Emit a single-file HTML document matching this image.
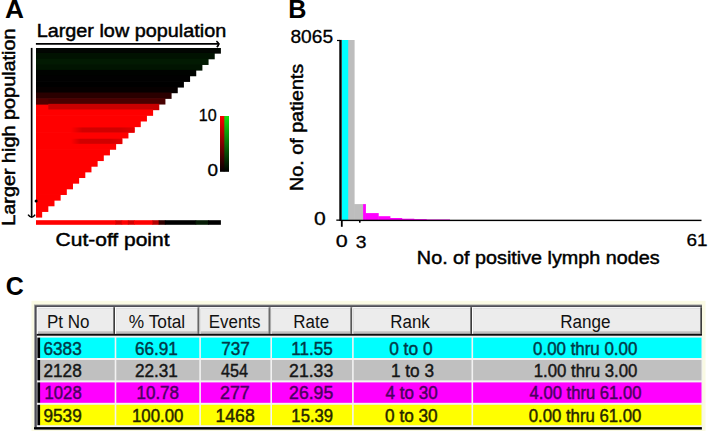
<!DOCTYPE html>
<html><head><meta charset="utf-8"><style>
html,body{margin:0;padding:0;background:#fff;}
body{width:709px;height:431px;overflow:hidden;position:relative;font-family:"Liberation Sans", sans-serif;}
</style></head><body>
<svg width="709" height="431" viewBox="0 0 709 431" style="position:absolute;left:0;top:0" font-family='"Liberation Sans", sans-serif'><line x1="35.9" y1="43.9" x2="219.5" y2="43.9" stroke="#000" stroke-width="1.8"/><path d="M216.4,41.1 Q220.6,44 216.8,47.1" fill="none" stroke="#000" stroke-width="1.7"/><line x1="31.65" y1="47.9" x2="31.65" y2="217" stroke="#000" stroke-width="1.7"/><path d="M28.1,214.6 Q31.8,219.8 35.1,214.6" fill="none" stroke="#000" stroke-width="1.6"/><rect x="36.000" y="48.000" width="184.890" height="5.653" fill="#020602"/><rect x="36.000" y="52.953" width="178.727" height="6.353" fill="#011201"/><rect x="36.000" y="58.606" width="172.564" height="6.353" fill="#021a02"/><rect x="36.000" y="64.259" width="166.401" height="6.353" fill="#011401"/><rect x="36.000" y="69.912" width="160.238" height="6.353" fill="#000300"/><rect x="36.000" y="75.565" width="154.075" height="6.353" fill="#010101"/><rect x="36.000" y="81.218" width="147.912" height="6.353" fill="#000000"/><rect x="36.000" y="86.871" width="141.749" height="6.353" fill="#060000"/><rect x="36.000" y="92.524" width="135.586" height="6.353" fill="#2a0000"/><rect x="36.000" y="98.177" width="129.423" height="6.353" fill="#480000"/><rect x="36.000" y="103.830" width="123.260" height="6.353" fill="#c80000"/><rect x="36.000" y="109.483" width="117.097" height="6.353" fill="#ff0000"/><rect x="36.000" y="115.136" width="110.934" height="6.353" fill="#ff0000"/><rect x="36.000" y="120.789" width="104.771" height="6.353" fill="#ff0000"/><rect x="36.000" y="126.442" width="98.608" height="6.353" fill="#ff0000"/><rect x="36.000" y="132.095" width="92.445" height="6.353" fill="#ff0000"/><rect x="36.000" y="137.748" width="86.282" height="6.353" fill="#ff0000"/><rect x="36.000" y="143.401" width="80.119" height="6.353" fill="#ff0000"/><rect x="36.000" y="149.054" width="73.956" height="6.353" fill="#ff0000"/><rect x="36.000" y="154.707" width="67.793" height="6.353" fill="#ff0000"/><rect x="36.000" y="160.360" width="61.630" height="6.353" fill="#ff0000"/><rect x="36.000" y="166.013" width="55.467" height="6.353" fill="#ff0000"/><rect x="36.000" y="171.666" width="49.304" height="6.353" fill="#ff0000"/><rect x="36.000" y="177.319" width="43.141" height="6.353" fill="#ff0000"/><rect x="36.000" y="182.972" width="36.978" height="6.353" fill="#ff0000"/><rect x="36.000" y="188.625" width="30.815" height="6.353" fill="#ff0000"/><rect x="36.000" y="194.278" width="24.652" height="6.353" fill="#ff0000"/><rect x="36.000" y="199.931" width="18.489" height="6.353" fill="#ff0000"/><rect x="36.000" y="205.584" width="12.326" height="6.353" fill="#ff0000"/><rect x="36.000" y="211.237" width="6.163" height="6.353" fill="#ff0000"/><rect x="36.000" y="104.530" width="12.326" height="5.653" fill="#ff0000"/><rect x="36.000" y="98.877" width="12.326" height="5.653" fill="#500000"/><defs><linearGradient id="band" x1="0" y1="0" x2="1" y2="0"><stop offset="0" stop-color="#ff0000"/><stop offset="0.18" stop-color="#d20000"/><stop offset="0.75" stop-color="#d00000"/><stop offset="1" stop-color="#e20000"/></linearGradient></defs><rect x="70.978" y="127.442" width="63.630" height="5.053" fill="url(#band)"/><rect x="70.978" y="138.748" width="51.304" height="5.053" fill="url(#band)"/><circle cx="36.1" cy="200.9" r="1.5" fill="#000"/><defs><linearGradient id="gr" x1="0" y1="0" x2="0" y2="1"><stop offset="0" stop-color="#ff0000"/><stop offset="1" stop-color="#000"/></linearGradient><linearGradient id="gg" x1="0" y1="0" x2="0" y2="1"><stop offset="0" stop-color="#10e010"/><stop offset="1" stop-color="#000"/></linearGradient></defs><rect x="223.8" y="116" width="5.2" height="55.8" fill="url(#gg)"/><rect x="220" y="116" width="4.3" height="55.8" fill="url(#gr)"/><rect x="36.000" y="220.2" width="80.119" height="4.6" fill="#ff0000"/><rect x="115.519" y="220.2" width="6.763" height="4.6" fill="#d40000"/><rect x="121.682" y="220.2" width="6.763" height="4.6" fill="#ff0000"/><rect x="127.845" y="220.2" width="6.763" height="4.6" fill="#d40000"/><rect x="134.008" y="220.2" width="19.089" height="4.6" fill="#ff0000"/><rect x="152.497" y="220.2" width="6.763" height="4.6" fill="#b40000"/><rect x="158.660" y="220.2" width="6.763" height="4.6" fill="#300000"/><rect x="164.823" y="220.2" width="31.415" height="4.6" fill="#000000"/><rect x="195.638" y="220.2" width="12.926" height="4.6" fill="#061c06"/><rect x="207.964" y="220.2" width="12.926" height="4.6" fill="#000000"/><rect x="347.8" y="40" width="6.8" height="180.3" fill="#bdbdbd"/><rect x="354.1" y="204.1" width="9.5" height="16.2" fill="#bdbdbd"/><rect x="341.8" y="40" width="6.4" height="180.3" fill="#00ffff"/><rect x="363.1" y="204.1" width="2.80" height="16.20" fill="#ff00ff"/><rect x="365.4" y="213.1" width="13.30" height="7.20" fill="#ff00ff"/><rect x="378.2" y="216.2" width="12.20" height="4.10" fill="#ff00ff"/><rect x="389.9" y="218.0" width="12.30" height="2.30" fill="#ff00ff"/><rect x="401.7" y="218.7" width="12.60" height="1.60" fill="#ff00ff"/><rect x="413.8" y="219.1" width="12.90" height="1.20" fill="#ff00ff"/><rect x="426.2" y="219.5" width="23.80" height="0.80" fill="#ff00ff"/><rect x="339.3" y="39.9" width="2.4" height="181.1" fill="#000"/><rect x="337" y="39.9" width="3" height="1.2" fill="#000"/><rect x="336.3" y="219.5" width="4" height="1.3" fill="#000"/><rect x="341" y="219.7" width="360.5" height="1.4" fill="#000"/><rect x="340.9" y="221" width="1.8" height="5.8" fill="#000"/><rect x="359" y="221" width="1.6" height="1.7" fill="#000"/><rect x="31.5" y="300.8" width="674" height="130.2" fill="#fafae4"/><rect x="34" y="304.5" width="668" height="125" fill="#9c9c9c"/><rect x="35" y="305.4" width="667" height="124" fill="#4e4e56"/><rect x="36.8" y="307.2" width="665.2" height="120" fill="#f2f2f2"/><rect x="36.8" y="307.2" width="78.2" height="26.7" fill="#ffffff"/><rect x="37.9" y="308.3" width="77.1" height="25.6" fill="#a8a8a8"/><rect x="37.9" y="308.3" width="75.1" height="23.3" fill="#ececec"/><rect x="37.9" y="331.6" width="75.1" height="1.2" fill="#c8c8c8"/><rect x="113.0" y="307.2" width="1.0" height="26.7" fill="#787878"/><rect x="114.0" y="307.2" width="1.0" height="26.7" fill="#3c3c3c"/><rect x="115.0" y="307.2" width="84.5" height="26.7" fill="#ffffff"/><rect x="116.1" y="308.3" width="83.4" height="25.6" fill="#a8a8a8"/><rect x="116.1" y="308.3" width="81.4" height="23.3" fill="#ececec"/><rect x="116.1" y="331.6" width="81.4" height="1.2" fill="#c8c8c8"/><rect x="197.5" y="307.2" width="1.0" height="26.7" fill="#787878"/><rect x="198.5" y="307.2" width="1.0" height="26.7" fill="#3c3c3c"/><rect x="199.5" y="307.2" width="71.1" height="26.7" fill="#ffffff"/><rect x="200.6" y="308.3" width="70.0" height="25.6" fill="#a8a8a8"/><rect x="200.6" y="308.3" width="68.0" height="23.3" fill="#ececec"/><rect x="200.6" y="331.6" width="68.0" height="1.2" fill="#c8c8c8"/><rect x="268.6" y="307.2" width="1.0" height="26.7" fill="#787878"/><rect x="269.6" y="307.2" width="1.0" height="26.7" fill="#3c3c3c"/><rect x="270.6" y="307.2" width="81.7" height="26.7" fill="#ffffff"/><rect x="271.7" y="308.3" width="80.6" height="25.6" fill="#a8a8a8"/><rect x="271.7" y="308.3" width="78.6" height="23.3" fill="#ececec"/><rect x="271.7" y="331.6" width="78.6" height="1.2" fill="#c8c8c8"/><rect x="350.3" y="307.2" width="1.0" height="26.7" fill="#787878"/><rect x="351.3" y="307.2" width="1.0" height="26.7" fill="#3c3c3c"/><rect x="352.3" y="307.2" width="119.7" height="26.7" fill="#ffffff"/><rect x="353.4" y="308.3" width="118.6" height="25.6" fill="#a8a8a8"/><rect x="353.4" y="308.3" width="116.6" height="23.3" fill="#ececec"/><rect x="353.4" y="331.6" width="116.6" height="1.2" fill="#c8c8c8"/><rect x="470.0" y="307.2" width="1.0" height="26.7" fill="#787878"/><rect x="471.0" y="307.2" width="1.0" height="26.7" fill="#3c3c3c"/><rect x="472.0" y="307.2" width="230.0" height="26.7" fill="#ffffff"/><rect x="473.1" y="308.3" width="228.9" height="25.6" fill="#a8a8a8"/><rect x="473.1" y="308.3" width="226.9" height="23.3" fill="#ececec"/><rect x="473.1" y="331.6" width="226.9" height="1.2" fill="#c8c8c8"/><rect x="700.0" y="307.2" width="1.0" height="26.7" fill="#787878"/><rect x="701.0" y="307.2" width="1.0" height="26.7" fill="#3c3c3c"/><rect x="36.8" y="333.9" width="665.2" height="1.8" fill="#0c0c0c"/><rect x="40.0" y="337.6" width="74.7" height="20.4" fill="#00ffff"/><rect x="116.3" y="337.6" width="83.0" height="20.4" fill="#00ffff"/><rect x="200.9" y="337.6" width="69.5" height="20.4" fill="#00ffff"/><rect x="272.0" y="337.6" width="80.1" height="20.4" fill="#00ffff"/><rect x="353.7" y="337.6" width="117.8" height="20.4" fill="#00ffff"/><rect x="473.1" y="337.6" width="228.6" height="20.4" fill="#00ffff"/><rect x="37.4" y="337.6" width="2.7" height="20.4" fill="#000"/><rect x="40.0" y="360.0" width="74.7" height="20.4" fill="#c0c0c0"/><rect x="116.3" y="360.0" width="83.0" height="20.4" fill="#c0c0c0"/><rect x="200.9" y="360.0" width="69.5" height="20.4" fill="#c0c0c0"/><rect x="272.0" y="360.0" width="80.1" height="20.4" fill="#c0c0c0"/><rect x="353.7" y="360.0" width="117.8" height="20.4" fill="#c0c0c0"/><rect x="473.1" y="360.0" width="228.6" height="20.4" fill="#c0c0c0"/><rect x="37.4" y="360.0" width="2.7" height="20.4" fill="#000"/><rect x="40.0" y="382.4" width="74.7" height="20.4" fill="#ff00ff"/><rect x="116.3" y="382.4" width="83.0" height="20.4" fill="#ff00ff"/><rect x="200.9" y="382.4" width="69.5" height="20.4" fill="#ff00ff"/><rect x="272.0" y="382.4" width="80.1" height="20.4" fill="#ff00ff"/><rect x="353.7" y="382.4" width="117.8" height="20.4" fill="#ff00ff"/><rect x="473.1" y="382.4" width="228.6" height="20.4" fill="#ff00ff"/><rect x="37.4" y="382.4" width="2.7" height="20.4" fill="#000"/><rect x="40.0" y="404.8" width="74.7" height="20.4" fill="#ffff00"/><rect x="116.3" y="404.8" width="83.0" height="20.4" fill="#ffff00"/><rect x="200.9" y="404.8" width="69.5" height="20.4" fill="#ffff00"/><rect x="272.0" y="404.8" width="80.1" height="20.4" fill="#ffff00"/><rect x="353.7" y="404.8" width="117.8" height="20.4" fill="#ffff00"/><rect x="473.1" y="404.8" width="228.6" height="20.4" fill="#ffff00"/><rect x="37.4" y="404.8" width="2.7" height="20.4" fill="#000"/><rect x="701.7" y="335.7" width="0.8" height="91.5" fill="#f2f2f0"/><rect x="34" y="427.2" width="667.7" height="2.1" fill="#000"/><text x="5.05" y="17.7" font-size="25" font-weight="700" fill="#000" textLength="18.97" lengthAdjust="spacingAndGlyphs">A</text><text x="36.67" y="36.6" font-size="17.6" font-weight="400" fill="#000" stroke="#000" stroke-width="0.45" textLength="189.52" lengthAdjust="spacingAndGlyphs">Larger low population</text><text transform="translate(14.8,225.73) rotate(-90)" x="0" y="0" font-size="17.6" font-weight="400" fill="#000" stroke="#000" stroke-width="0.45" textLength="197.28" lengthAdjust="spacingAndGlyphs">Larger high population</text><text x="198.81" y="120.6" font-size="16.2" font-weight="400" fill="#000" stroke="#000" stroke-width="0.3" textLength="17.91" lengthAdjust="spacingAndGlyphs">10</text><text x="207.50" y="175.5" font-size="15.8" font-weight="400" fill="#000" stroke="#000" stroke-width="0.3" textLength="10.56" lengthAdjust="spacingAndGlyphs">0</text><text x="55.61" y="246.3" font-size="17.6" font-weight="400" fill="#000" stroke="#000" stroke-width="0.45" textLength="113.93" lengthAdjust="spacingAndGlyphs">Cut-off point</text><text x="288.39" y="18.0" font-size="25" font-weight="700" fill="#000" textLength="18.18" lengthAdjust="spacingAndGlyphs">B</text><text x="290.41" y="43.0" font-size="17.6" font-weight="400" fill="#000" stroke="#000" stroke-width="0.3" textLength="42.63" lengthAdjust="spacingAndGlyphs">8065</text><text x="314.01" y="225.0" font-size="17.8" font-weight="400" fill="#000" stroke="#000" stroke-width="0.3" textLength="11.75" lengthAdjust="spacingAndGlyphs">0</text><text transform="translate(302.6,190.92) rotate(-90)" x="0" y="0" font-size="17.6" font-weight="400" fill="#000" stroke="#000" stroke-width="0.45" textLength="127.13" lengthAdjust="spacingAndGlyphs">No. of patients</text><text x="335.75" y="246.7" font-size="17.2" font-weight="400" fill="#000" stroke="#000" stroke-width="0.3" textLength="11.95" lengthAdjust="spacingAndGlyphs">0</text><text x="355.68" y="247.8" font-size="17.2" font-weight="400" fill="#000" stroke="#000" stroke-width="0.3" textLength="10.76" lengthAdjust="spacingAndGlyphs">3</text><text x="686.60" y="246.4" font-size="17.2" font-weight="400" fill="#000" stroke="#000" stroke-width="0.3" textLength="21.04" lengthAdjust="spacingAndGlyphs">61</text><text x="416.88" y="263.8" font-size="17.6" font-weight="400" fill="#000" stroke="#000" stroke-width="0.45" textLength="242.66" lengthAdjust="spacingAndGlyphs">No. of positive lymph nodes</text><text x="5.74" y="295.0" font-size="26" font-weight="700" fill="#000" textLength="18.01" lengthAdjust="spacingAndGlyphs">C</text><text x="46.96" y="327.9" font-size="18" font-weight="400" fill="#111" textLength="42.52" lengthAdjust="spacingAndGlyphs">Pt No</text><text x="128.84" y="327.9" font-size="18" font-weight="400" fill="#111" textLength="56.33" lengthAdjust="spacingAndGlyphs">% Total</text><text x="208.76" y="327.9" font-size="18" font-weight="400" fill="#111" textLength="51.77" lengthAdjust="spacingAndGlyphs">Events</text><text x="293.36" y="327.9" font-size="18" font-weight="400" fill="#111" textLength="35.81" lengthAdjust="spacingAndGlyphs">Rate</text><text x="390.36" y="327.9" font-size="18" font-weight="400" fill="#111" textLength="39.47" lengthAdjust="spacingAndGlyphs">Rank</text><text x="560.15" y="327.9" font-size="18" font-weight="400" fill="#111" textLength="50.34" lengthAdjust="spacingAndGlyphs">Range</text><text x="43.44" y="354.5" font-size="18" font-weight="400" fill="#003a48" stroke="#003a48" stroke-width="0.45" textLength="38.26" lengthAdjust="spacingAndGlyphs">6383</text><text x="134.95" y="354.5" font-size="18" font-weight="400" fill="#003a48" stroke="#003a48" stroke-width="0.45" textLength="42.95" lengthAdjust="spacingAndGlyphs">66.91</text><text x="221.15" y="354.5" font-size="18" font-weight="400" fill="#003a48" stroke="#003a48" stroke-width="0.45" textLength="28.54" lengthAdjust="spacingAndGlyphs">737</text><text x="291.35" y="354.5" font-size="18" font-weight="400" fill="#003a48" stroke="#003a48" stroke-width="0.45" textLength="41.53" lengthAdjust="spacingAndGlyphs">11.55</text><text x="389.14" y="354.5" font-size="18" font-weight="400" fill="#003a48" stroke="#003a48" stroke-width="0.45" textLength="43.41" lengthAdjust="spacingAndGlyphs">0 to 0</text><text x="533.06" y="354.5" font-size="18" font-weight="400" fill="#003a48" stroke="#003a48" stroke-width="0.45" textLength="104.33" lengthAdjust="spacingAndGlyphs">0.00 thru 0.00</text><text x="43.44" y="376.9" font-size="18" font-weight="400" fill="#161616" stroke="#161616" stroke-width="0.45" textLength="38.26" lengthAdjust="spacingAndGlyphs">2128</text><text x="134.95" y="376.9" font-size="18" font-weight="400" fill="#161616" stroke="#161616" stroke-width="0.45" textLength="42.95" lengthAdjust="spacingAndGlyphs">22.31</text><text x="221.00" y="376.9" font-size="18" font-weight="400" fill="#161616" stroke="#161616" stroke-width="0.45" textLength="27.04" lengthAdjust="spacingAndGlyphs">454</text><text x="289.12" y="376.9" font-size="18" font-weight="400" fill="#161616" stroke="#161616" stroke-width="0.45" textLength="44.10" lengthAdjust="spacingAndGlyphs">21.33</text><text x="390.94" y="376.9" font-size="18" font-weight="400" fill="#161616" stroke="#161616" stroke-width="0.45" textLength="43.06" lengthAdjust="spacingAndGlyphs">1 to 3</text><text x="533.77" y="376.9" font-size="18" font-weight="400" fill="#161616" stroke="#161616" stroke-width="0.45" textLength="103.62" lengthAdjust="spacingAndGlyphs">1.00 thru 3.00</text><text x="44.57" y="399.3" font-size="18" font-weight="400" fill="#4a005e" stroke="#4a005e" stroke-width="0.45" textLength="37.10" lengthAdjust="spacingAndGlyphs">1028</text><text x="136.45" y="399.3" font-size="18" font-weight="400" fill="#4a005e" stroke="#4a005e" stroke-width="0.45" textLength="42.64" lengthAdjust="spacingAndGlyphs">10.78</text><text x="220.01" y="399.3" font-size="18" font-weight="400" fill="#4a005e" stroke="#4a005e" stroke-width="0.45" textLength="29.72" lengthAdjust="spacingAndGlyphs">277</text><text x="289.12" y="399.3" font-size="18" font-weight="400" fill="#4a005e" stroke="#4a005e" stroke-width="0.45" textLength="44.10" lengthAdjust="spacingAndGlyphs">26.95</text><text x="385.50" y="399.3" font-size="18" font-weight="400" fill="#4a005e" stroke="#4a005e" stroke-width="0.45" textLength="52.14" lengthAdjust="spacingAndGlyphs">4 to 30</text><text x="529.60" y="399.3" font-size="18" font-weight="400" fill="#4a005e" stroke="#4a005e" stroke-width="0.45" textLength="111.80" lengthAdjust="spacingAndGlyphs">4.00 thru 61.00</text><text x="43.44" y="421.7" font-size="18" font-weight="400" fill="#262600" stroke="#262600" stroke-width="0.45" textLength="38.26" lengthAdjust="spacingAndGlyphs">9539</text><text x="131.97" y="421.7" font-size="18" font-weight="400" fill="#262600" stroke="#262600" stroke-width="0.45" textLength="51.39" lengthAdjust="spacingAndGlyphs">100.00</text><text x="215.52" y="421.7" font-size="18" font-weight="400" fill="#262600" stroke="#262600" stroke-width="0.45" textLength="39.20" lengthAdjust="spacingAndGlyphs">1468</text><text x="291.37" y="421.7" font-size="18" font-weight="400" fill="#262600" stroke="#262600" stroke-width="0.45" textLength="41.80" lengthAdjust="spacingAndGlyphs">15.39</text><text x="385.04" y="421.7" font-size="18" font-weight="400" fill="#262600" stroke="#262600" stroke-width="0.45" textLength="52.60" lengthAdjust="spacingAndGlyphs">0 to 30</text><text x="528.67" y="421.7" font-size="18" font-weight="400" fill="#262600" stroke="#262600" stroke-width="0.45" textLength="112.73" lengthAdjust="spacingAndGlyphs">0.00 thru 61.00</text></svg>
</body></html>
